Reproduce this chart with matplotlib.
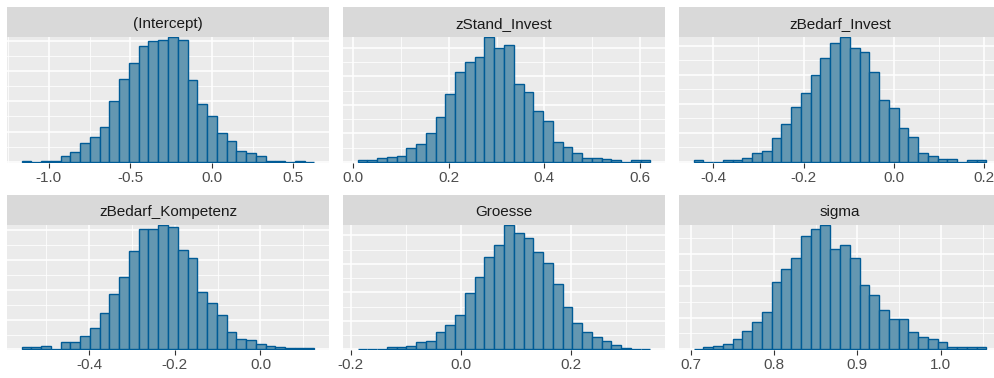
import numpy as np
import matplotlib
matplotlib.use("Agg")
import matplotlib.pyplot as plt
from matplotlib.ticker import MultipleLocator, AutoMinorLocator

plt.rcParams["font.family"] = ["Liberation Sans", "DejaVu Sans"]
plt.rcParams["axes.unicode_minus"] = False

# posterior draws per histogram bin (30 bins per parameter)
params = ["(Intercept)", "zStand_Invest", "zBedarf_Invest",
          "zBedarf_Kompetenz", "Groesse", "sigma"]
bin_lo = [-1.167, 0.009, -0.4434, -0.5577, -0.1873, 0.7036]
bin_hi = [0.629, 0.622, 0.2044, 0.1258, 0.3444, 1.0546]
tick_step = [0.5, 0.2, 0.2, 0.2, 0.2, 0.1]

counts_intercept = [2, 1, 2, 2, 19, 31, 61, 82, 115, 202, 274, 325, 383, 398, 402,
                    412, 401, 269, 192, 150, 95, 70, 35, 28, 18, 3, 2, 1, 2, 1]
counts_zstand = [5, 5, 12, 17, 20, 47, 64, 101, 156, 237, 315, 350, 368, 438, 399,
                 410, 272, 245, 179, 142, 69, 52, 32, 15, 12, 10, 6, 1, 5, 5]
counts_zbedarf_inv = [7, 0, 1, 7, 7, 15, 29, 37, 82, 130, 189, 238, 300, 358, 408,
                      430, 393, 378, 308, 212, 184, 118, 86, 32, 19, 10, 10, 1, 7, 7]
counts_zbedarf_komp = [7, 7, 11, 1, 25, 25, 45, 71, 124, 185, 244, 332, 405, 404, 420,
                       412, 335, 309, 193, 155, 116, 59, 36, 31, 19, 11, 7, 3, 3, 3]
counts_groesse = [1, 1, 1, 7, 7, 12, 25, 30, 60, 84, 121, 197, 254, 325, 366,
                  438, 407, 390, 343, 302, 230, 147, 92, 60, 42, 28, 15, 6, 1, 1]
counts_sigma = [1, 6, 11, 18, 34, 58, 86, 116, 210, 251, 288, 357, 378, 392, 316,
                327, 288, 201, 172, 124, 95, 95, 54, 38, 34, 22, 9, 6, 6, 6]
all_counts = [counts_intercept, counts_zstand, counts_zbedarf_inv,
              counts_zbedarf_komp, counts_groesse, counts_sigma]

FILL = "#6497b1"
EDGE = "#005b96"
PANEL = "#EBEBEB"
STRIP = "#D9D9D9"

W, H = 994, 378
fig = plt.figure(figsize=(W / 100, H / 100), dpi=100)

panel_w, gap, left0 = 322, 14, 7
strip_h = 30
rows = [(7, 162.5), (194.5, 350)]  # strip top, panel bottom (px)

for i, name in enumerate(params):
    r, c = divmod(i, 3)
    x0 = left0 + c * (panel_w + gap)
    s_top, p_bot = rows[r]
    p_top = s_top + strip_h
    ax = fig.add_axes([x0 / W, 1 - p_bot / H, panel_w / W, (p_bot - p_top) / H])
    sx = fig.add_axes([x0 / W, 1 - p_top / H, panel_w / W, strip_h / H])

    counts = np.array(all_counts[i], dtype=float)
    edges = np.linspace(bin_lo[i], bin_hi[i], len(counts) + 1)
    ax.bar(edges[:-1], counts, width=np.diff(edges), align="edge",
           color=FILL, edgecolor=EDGE, linewidth=1.0, zorder=3)

    span = bin_hi[i] - bin_lo[i]
    ax.set_xlim(bin_lo[i] - 0.05 * span, bin_hi[i] + 0.05 * span)
    ax.set_ylim(-0.005 * counts.max(), counts.max())

    ax.set_facecolor(PANEL)
    for sp in ax.spines.values():
        sp.set_visible(False)
    ax.xaxis.set_major_locator(MultipleLocator(tick_step[i]))
    ax.xaxis.set_minor_locator(AutoMinorLocator(2))
    ax.yaxis.set_major_locator(MultipleLocator(100))
    ax.yaxis.set_minor_locator(MultipleLocator(50))
    ax.grid(which="major", color="white", linewidth=1.1, zorder=0)
    ax.grid(which="minor", color="white", linewidth=0.55, zorder=0)
    ax.set_axisbelow(True)
    ax.tick_params(axis="x", which="major", length=3.5, width=0.8, color="#333333",
                   labelsize=11, labelcolor="#4D4D4D", pad=2.5)
    ax.tick_params(axis="x", which="minor", length=0)
    ax.tick_params(axis="y", which="both", length=0, labelleft=False)

    sx.set_facecolor(STRIP)
    sx.set_xticks([]); sx.set_yticks([])
    for sp in sx.spines.values():
        sp.set_visible(False)
    sx.text(0.5, 0.42, name, ha="center", va="center", fontsize=11,
            color="#1A1A1A", transform=sx.transAxes)

fig.savefig("out.png", dpi=100)
